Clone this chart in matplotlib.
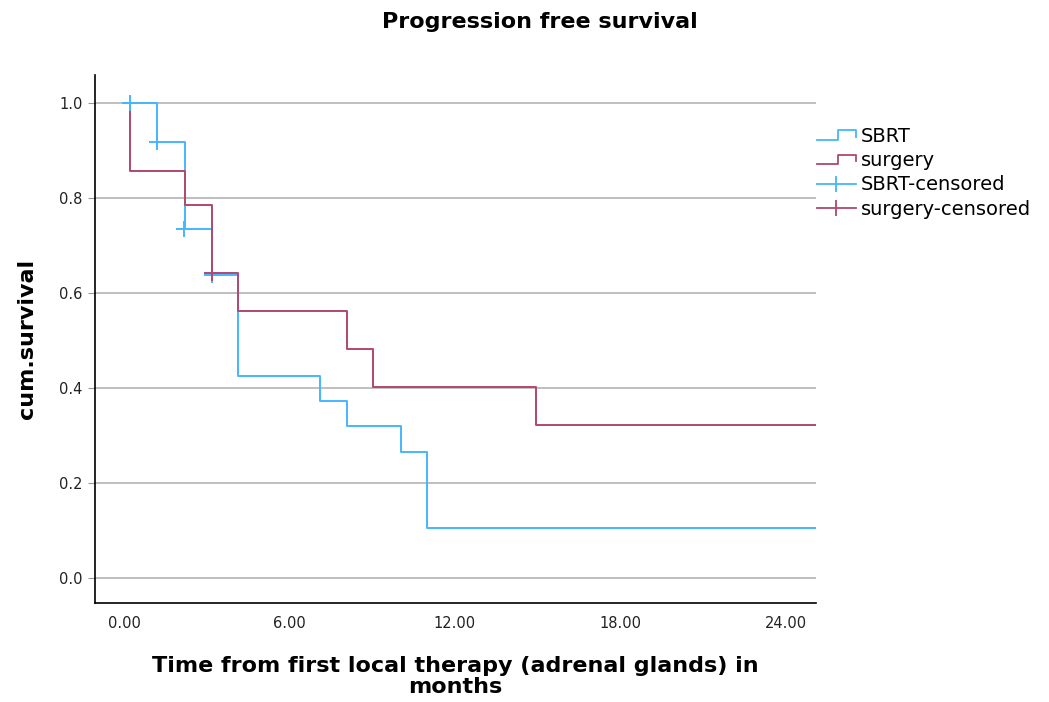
import matplotlib
matplotlib.use("Agg")
import matplotlib.pyplot as plt
from matplotlib.lines import Line2D
from matplotlib.legend_handler import HandlerBase

# Kaplan-Meier steps
sbrt_t = [0, 1.2, 2.2, 3.2, 4.15, 7.1, 8.1, 10.05, 11.0]
sbrt_s = [1.0, 0.917, 0.735, 0.638, 0.425, 0.372, 0.319, 0.266, 0.106]
surg_t = [0, 0.22, 2.2, 3.2, 4.15, 8.1, 9.05, 14.95]
surg_s = [1.0, 0.857, 0.786, 0.643, 0.5625, 0.482, 0.402, 0.321]
t_end = 26.0

# censored observations
sbrt_ct = [0.22, 1.2, 2.18, 3.2]
sbrt_cs = [1.0, 0.917, 0.735, 0.638]
surg_ct = [3.2]
surg_cs = [0.643]

yticks = [0.0, 0.2, 0.4, 0.6, 0.8, 1.0]
xticks = [0, 6, 12, 18, 24]

blue = "#45b6ff"
red = "#b0486f"


class StepHandler(HandlerBase):
    def create_artists(self, legend, orig_handle, xdescent, ydescent,
                       width, height, fontsize, trans):
        x0 = -xdescent
        y0 = -ydescent
        xs = [x0, x0 + 0.55 * width, x0 + 0.55 * width, x0 + width, x0 + width]
        ys = [y0 + 0.15 * height, y0 + 0.15 * height, y0 + 0.85 * height,
              y0 + 0.85 * height, y0 + 0.4 * height]
        ln = Line2D(xs, ys, color=orig_handle.get_color(), lw=1.3, transform=trans)
        return [ln]


fig = plt.figure(figsize=(10.49, 7.02), dpi=100)
ax = fig.add_axes([95 / 1049, 1 - 603 / 702, (816 - 95) / 1049, (603 - 75) / 702])

h1, = ax.step(sbrt_t + [t_end], sbrt_s + [sbrt_s[-1]], where="post", color=blue, lw=1.4)
h2, = ax.step(surg_t + [t_end], surg_s + [surg_s[-1]], where="post", color=red, lw=1.4)
ax.plot(sbrt_ct, sbrt_cs, ls="none", marker="+", ms=11, mew=1.4, color=blue)
ax.plot(surg_ct, surg_cs, ls="none", marker="+", ms=11, mew=1.4, color=red)

# legend proxies for censored marks: line with a vertical tick
h3 = Line2D([], [], color=blue, lw=1.3, marker="|", ms=12, mew=1.3)
h4 = Line2D([], [], color=red, lw=1.3, marker="|", ms=12, mew=1.3)

ax.set_xlim(-1.05, 25.1)
ax.set_ylim(-0.053, 1.059)
ax.set_yticks(yticks)
ax.set_yticklabels([f"{v:.1f}" for v in yticks])
ax.set_xticks(xticks)
ax.set_xticklabels([f"{v:.2f}" for v in xticks])
ax.yaxis.grid(True, color="#b4b4b4", lw=1.2)
ax.set_axisbelow(True)
for s in ["top", "right"]:
    ax.spines[s].set_visible(False)
for s in ["left", "bottom"]:
    ax.spines[s].set_linewidth(1.2)
ax.tick_params(axis="x", length=0, pad=9, labelsize=10.5, colors="#222222")
ax.tick_params(axis="y", length=5, width=0.8, color="#999999", pad=4,
               labelsize=10.5, labelcolor="#222222")

ax.set_ylabel("cum.survival", fontsize=16, fontweight="bold", labelpad=16)
ax.set_xlabel("Time from first local therapy (adrenal glands) in\nmonths",
              fontsize=16, fontweight="bold", labelpad=18, linespacing=1.1)
fig.text(0.515, 0.968, "Progression free survival", ha="center", va="center",
         fontsize=16, fontweight="bold")

fig.legend([h1, h2, h3, h4], ["SBRT", "surgery", "SBRT-censored", "surgery-censored"],
           handler_map={h1: StepHandler(), h2: StepHandler()},
           loc="upper left", bbox_to_anchor=(817 / 1049, 1 - 127 / 702),
           frameon=False, fontsize=14, handlelength=2.0, handletextpad=0.25,
           labelspacing=0.27, borderpad=0, borderaxespad=0, numpoints=1)

fig.savefig("out.png", dpi=100)
